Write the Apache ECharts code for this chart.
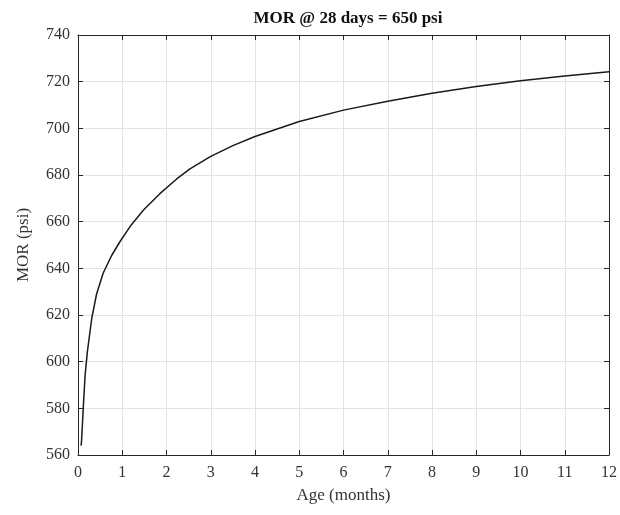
<!DOCTYPE html>
<html>
<head>
<meta charset="utf-8">
<script src="https://cdn.jsdelivr.net/npm/echarts@6/dist/echarts.min.js"></script>
<style>
  html, body { margin: 0; padding: 0; background: #fff; }
  #chart { width: 620px; height: 515px; }
</style>
</head>
<body>
<div id="chart"></div>
<script>
// values
const ageMonths = [0.07, 0.08, 0.12, 0.16, 0.21, 0.31, 0.42, 0.57, 0.76, 0.95, 1.18, 1.48, 1.85, 2.23, 2.53, 3, 3.5, 4, 5, 6, 7, 8, 9, 10, 11, 12];
const morPsi = [564, 566, 580.5, 594, 604, 618.5, 629, 638, 645.5, 651.5, 658, 665, 672, 678.3, 682.6, 688, 692.6, 696.5, 702.9, 707.8, 711.6, 715, 717.9, 720.4, 722.4, 724.3];
const xTicks = [0, 12, 1];        // min, max, step
const yTicks = [560, 740, 20];

const points = ageMonths.map((a, i) => [a, morPsi[i]]);

const myChart = echarts.init(document.getElementById('chart'));
const font = 'Liberation Serif';
const axisCol = '#262626';

const baseAxis = {
  type: 'value',
  axisLine: { show: true, onZero: false, lineStyle: { color: axisCol, width: 1 } },
  axisTick: { show: true, inside: true, length: 5, lineStyle: { color: axisCol } },
  splitLine: { show: true, lineStyle: { color: '#e3e3e3', width: 1 } },
  axisLabel: { color: '#333', fontFamily: font, fontSize: 16 }
};

const option = {
  animation: false,
  title: {
    text: 'MOR @ 28 days = 650 psi',
    left: 343, top: 5, textAlign: 'center',
    textStyle: { fontFamily: font, fontSize: 17, fontWeight: 'bold', color: '#111' }
  },
  grid: { left: 78, top: 35, right: 11, bottom: 60 },
  xAxis: [
    Object.assign({}, baseAxis, {
      min: xTicks[0], max: xTicks[1], interval: xTicks[2],
      name: 'Age (months)', nameLocation: 'middle', nameGap: 32,
      nameTextStyle: { fontFamily: font, fontSize: 17, color: '#333' },
      axisLabel: Object.assign({}, baseAxis.axisLabel, { margin: 10 })
    }),
    Object.assign({}, baseAxis, {
      position: 'top', min: xTicks[0], max: xTicks[1], interval: xTicks[2],
      axisLabel: { show: false }, splitLine: { show: false }
    })
  ],
  yAxis: [
    Object.assign({}, baseAxis, {
      min: yTicks[0], max: yTicks[1], interval: yTicks[2],
      name: 'MOR (psi)', nameLocation: 'middle', nameGap: 46,
      nameTextStyle: { fontFamily: font, fontSize: 17, color: '#333' },
      axisLabel: Object.assign({}, baseAxis.axisLabel, { margin: 8 })
    }),
    Object.assign({}, baseAxis, {
      position: 'right', min: yTicks[0], max: yTicks[1], interval: yTicks[2],
      axisLabel: { show: false }, splitLine: { show: false }
    })
  ],
  series: [{
    type: 'line',
    data: points,
    smooth: false,
    showSymbol: false,
    lineStyle: { color: '#1a1a1a', width: 1.5 }
  }]
};

myChart.setOption(option);
</script>
</body>
</html>
